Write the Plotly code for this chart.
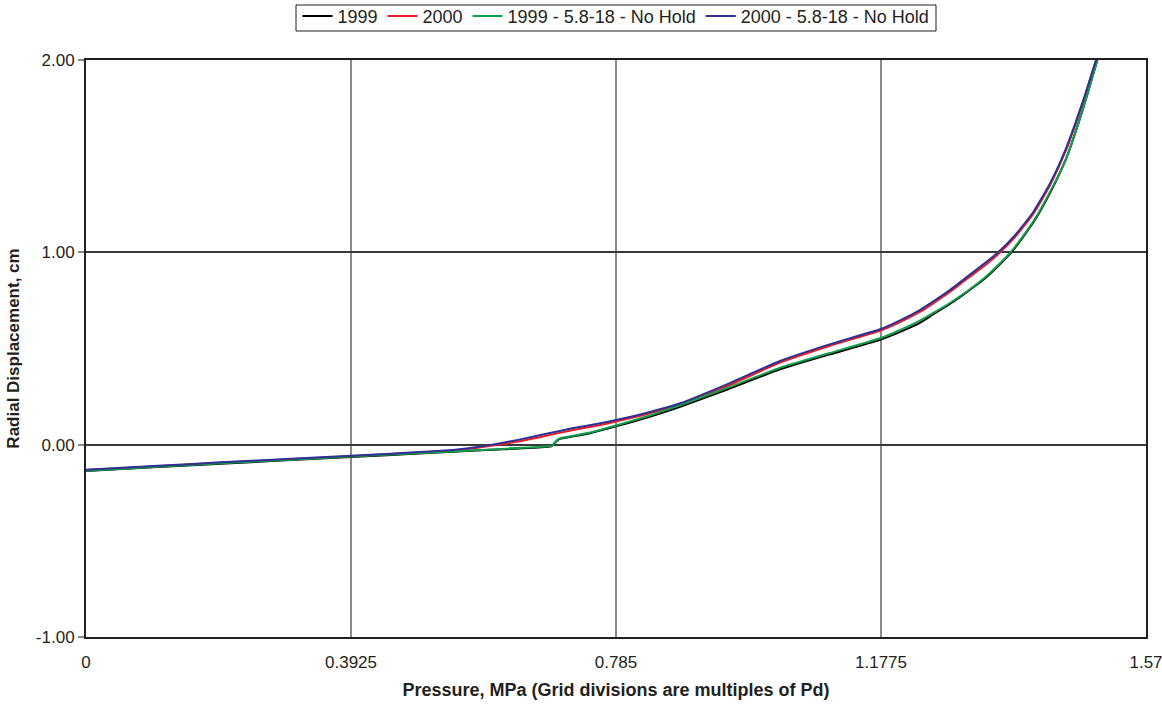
import plotly.graph_objects as go

# Pressure (MPa) and radial displacement (cm)
p_1999 = [0, 0.1, 0.2, 0.3925, 0.5, 0.6, 0.68, 0.69, 0.698, 0.702, 0.72, 0.745, 0.76, 0.785,
          0.835, 0.88, 0.95, 1.028, 1.10, 1.176, 1.205, 1.235, 1.255, 1.28, 1.304, 1.33,
          1.35, 1.373, 1.403, 1.428, 1.452, 1.477, 1.498]
d_1999 = [-0.137, -0.118, -0.099, -0.064, -0.045, -0.027, -0.012, -0.007, 0.022, 0.030, 0.042,
          0.058, 0.072, 0.095, 0.145, 0.197, 0.287, 0.392, 0.468, 0.545, 0.585, 0.633, 0.678,
          0.733, 0.792, 0.860, 0.925, 1.010, 1.155, 1.31, 1.49, 1.75, 2.00]

p_2000 = [0, 0.1, 0.2, 0.3925, 0.5, 0.55, 0.58, 0.61, 0.64, 0.68, 0.72, 0.76, 0.785, 0.835,
          0.88, 0.95, 1.028, 1.10, 1.176, 1.205, 1.235, 1.255, 1.28, 1.304, 1.33, 1.351,
          1.375, 1.403, 1.428, 1.452, 1.477, 1.496]
d_2000 = [-0.132, -0.113, -0.094, -0.060, -0.039, -0.028, -0.016, -0.001, 0.016, 0.045, 0.075,
          0.101, 0.120, 0.163, 0.208, 0.305, 0.427, 0.512, 0.592, 0.636, 0.690, 0.735, 0.795,
          0.860, 0.928, 0.99, 1.075, 1.20, 1.35, 1.535, 1.785, 2.00]

p_1999_nh = [0, 0.1, 0.2, 0.3925, 0.5, 0.6, 0.68, 0.69, 0.698, 0.702, 0.72, 0.745, 0.76, 0.785,
             0.835, 0.88, 0.95, 1.028, 1.10, 1.176, 1.205, 1.235, 1.255, 1.28, 1.304, 1.33,
             1.35, 1.373, 1.403, 1.428, 1.452, 1.477, 1.498]
d_1999_nh = [-0.135, -0.116, -0.097, -0.062, -0.043, -0.025, -0.010, -0.005, 0.025, 0.033, 0.045,
             0.062, 0.075, 0.100, 0.152, 0.205, 0.295, 0.400, 0.475, 0.553, 0.595, 0.645, 0.685,
             0.738, 0.795, 0.865, 0.930, 1.015, 1.160, 1.315, 1.49, 1.75, 2.00]

p_2000_nh = [0, 0.1, 0.2, 0.3925, 0.5, 0.55, 0.58, 0.61, 0.64, 0.68, 0.72, 0.76, 0.785, 0.835,
             0.88, 0.95, 1.028, 1.10, 1.176, 1.205, 1.235, 1.255, 1.28, 1.304, 1.33, 1.351,
             1.375, 1.403, 1.428, 1.452, 1.477, 1.496]
d_2000_nh = [-0.130, -0.111, -0.092, -0.058, -0.037, -0.025, -0.012, 0.005, 0.025, 0.055, 0.085,
             0.110, 0.128, 0.170, 0.215, 0.315, 0.435, 0.520, 0.600, 0.645, 0.700, 0.745, 0.805,
             0.870, 0.940, 1.000, 1.085, 1.210, 1.360, 1.545, 1.790, 2.00]

x_ticks = [0, 0.3925, 0.785, 1.1775, 1.57]
x_tick_labels = ["0", "0.3925", "0.785", "1.1775", "1.57"]
y_ticks = [-1, 0, 1, 2]
y_tick_labels = ["-1.00", "0.00", "1.00", "2.00"]

series = [
    ("1999", p_1999, d_1999, "#000000"),
    ("2000", p_2000, d_2000, "#ed1c24"),
    ("1999 - 5.8-18 - No Hold", p_1999_nh, d_1999_nh, "#11a04a"),
    ("2000 - 5.8-18 - No Hold", p_2000_nh, d_2000_nh, "#2e3192"),
]

fig = go.Figure()
for name, xs, ys, col in series:
    fig.add_trace(go.Scatter(x=xs, y=ys, mode="lines", name=name,
                             line=dict(color=col, width=2, shape="spline", smoothing=0.5)))

# thin frame around the legend (tighter than plotly's own legend border)
fig.add_shape(type="rect", xref="paper", yref="paper",
              x0=(296 - 86) / 1060, x1=(936 - 86) / 1060,
              y0=(637 - 31) / 577, y1=(637 - 5) / 577,
              line=dict(color="#231f20", width=1), fillcolor="rgba(0,0,0,0)", layer="above")

font = "Liberation Sans, Arial, sans-serif"
fig.update_layout(
    width=1162, height=704,
    margin=dict(l=86, r=16, t=60, b=67, autoexpand=False),
    paper_bgcolor="white", plot_bgcolor="white",
    font=dict(family=font, size=17, color="#231f20"),
    showlegend=True,
    legend=dict(orientation="h", x=0.5, xanchor="center", y=1.108, yanchor="top",
                borderwidth=0, font=dict(size=18),
                bgcolor="rgba(0,0,0,0)", tracegroupgap=0, itemwidth=30),
    xaxis=dict(range=[0, 1.57], tickvals=x_ticks, ticktext=x_tick_labels,
               showgrid=True, gridcolor="#8a8a8a", gridwidth=2,
               showline=True, linecolor="#231f20", linewidth=2, mirror=True,
               ticks="outside", ticklen=9, tickcolor="rgba(0,0,0,0)",
               ticklabeloverflow="allow",
               zeroline=False,
               title=dict(text="<b>Pressure, MPa (Grid divisions are multiples of Pd)</b>",
                          font=dict(size=18), standoff=12)),
    yaxis=dict(range=[-1, 2], tickvals=y_ticks, ticktext=y_tick_labels,
               showgrid=True, gridcolor="#3a3a3a", gridwidth=1.5,
               showline=True, linecolor="#231f20", linewidth=2, mirror=True,
               ticks="outside", ticklen=6, tickcolor="#8a8a8a", tickwidth=1.5,
               ticklabeloverflow="allow",
               zeroline=False,
               title=dict(text="<b>Radial Displacement, cm</b>", font=dict(size=17), standoff=12)),
)

fig.write_html("out.html")
